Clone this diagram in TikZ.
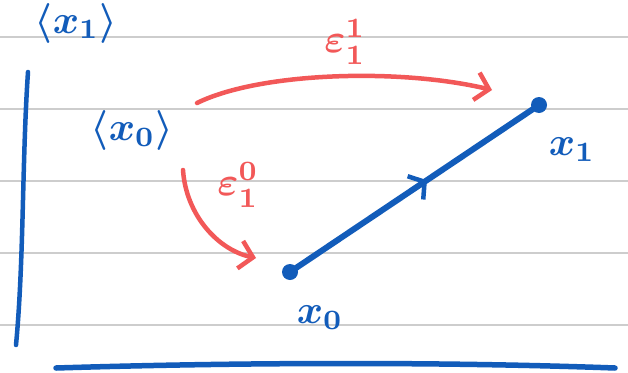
\documentclass[tikz,border=0pt]{standalone}
\usetikzlibrary{arrows.meta,decorations.markings}
\definecolor{inkblue}{RGB}{18,92,186}
\definecolor{inkred}{RGB}{242,88,88}
\definecolor{rule}{RGB}{205,205,205}
\begin{document}
\begin{tikzpicture}[x=1pt,y=-1pt,
  ruleline/.style={rule,line width=2.5pt},
  blueink/.style={inkblue,line width=4.5pt,line cap=round},
  redarrow/.style={inkred,line width=4.5pt,line cap=round,-{Straight Barb[length=13pt,width=28pt,line width=4.5pt]}},
  lbl/.style={inner sep=0pt,scale=4,font=\boldmath},
  bluelbl/.style={lbl,text=inkblue},
  redlbl/.style={lbl,text=inkred},
  dotnode/.style={circle,fill=inkblue,inner sep=0pt,minimum size=16pt}]
\useasboundingbox (0,0) rectangle (628,372);
\fill[white] (0,0) rectangle (628,372);
% ruled paper
\foreach \yy in {37,109,181,253,325} \draw[ruleline] (0,\yy) -- (628,\yy);
% axes-like strokes
\coordinate (vtop) at (28,72);
\coordinate (vbot) at (16,345);
\draw[blueink] (vtop) .. controls (22,160) and (24,260) .. (vbot);
\coordinate (hl) at (56,368);
\coordinate (hr) at (615,368);
\draw[inkblue,line width=5.5pt,line cap=round] (hl) .. controls (250,362) and (450,362) .. (hr);
% labels
\node[bluelbl] (X1) at (76,23) {$\langle x_1\rangle$};
\node[bluelbl] (X0) at (132,130) {$\langle x_0\rangle$};
% points and segment
\node[dotnode] (p0) at (290,272) {};
\node[dotnode] (p1) at (539,105) {};
\draw[inkblue,line width=6pt,line cap=round,
  decoration={markings,mark=at position 0.55 with {\arrow{Straight Barb[length=11pt,width=28pt,line width=4.5pt]}}},
  postaction={decorate}] (p0.center) -- (p1.center);
\node[bluelbl] (l1) at (572,150) {$x_1$};
\node[bluelbl] (l0) at (320,318) {$x_0$};
% red arrows
\coordinate (a1s) at (197,103);
\coordinate (a1e) at (492,90);
\draw[redarrow] (a1s) .. controls (260,72) and (400,68) .. (a1e);
\node[redlbl] (e1) at (345,42) {$\varepsilon_1^1$};
\coordinate (a2s) at (183,170);
\coordinate (a2e) at (256,258);
\draw[redarrow] (a2s) .. controls (186,215) and (218,250) .. (a2e);
\node[redlbl] (e0) at (238,185) {$\varepsilon_1^0$};
\end{tikzpicture}
\end{document}
